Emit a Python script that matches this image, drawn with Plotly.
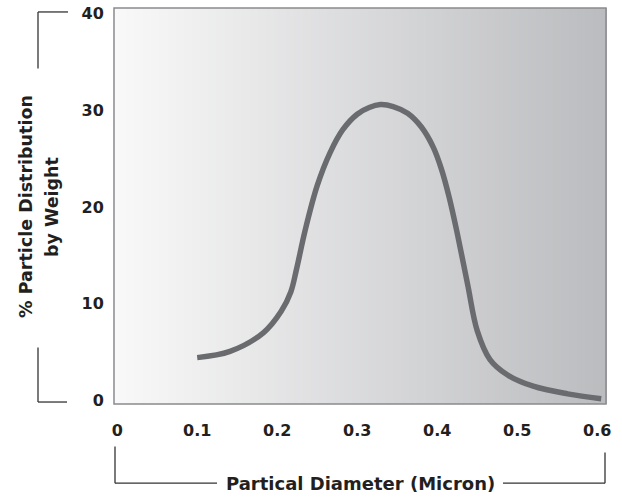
import plotly.graph_objects as go

# Data
diameter = [0.10, 0.141, 0.183, 0.205, 0.217, 0.224, 0.235, 0.250, 0.266, 0.282, 0.300, 0.315, 0.329,
            0.345, 0.363, 0.380, 0.395, 0.405, 0.415, 0.425, 0.438, 0.450, 0.466, 0.488, 0.520, 0.563, 0.605]
distribution = [4.4, 5.05, 7.0, 9.2, 11.2, 13.5, 17.6, 22.2, 25.6, 28.0, 29.6, 30.3, 30.6,
                30.4, 29.7, 28.3, 26.2, 24.0, 21.0, 17.3, 12.0, 7.2, 4.2, 2.6, 1.44, 0.65, 0.15]
x_ticks = [0, 0.1, 0.2, 0.3, 0.4, 0.5, 0.6]
x_tick_labels = ["0", "0.1", "0.2", "0.3", "0.4", "0.5", "0.6"]
y_ticks = [0, 10, 20, 30, 40]
y_tick_labels = ["0", "10", "20", "30", "40"]

W, H = 622, 499
L, R, T, B = 114, 16, 4, 95
PW, PH = W - L - R, H - T - B

def px(x):
    return (x - L) / PW

def py(y):
    return (H - B - y) / PH

FONT = "DejaVu Sans, Liberation Sans, Arial, sans-serif"
TXT = "#231f20"

fig = go.Figure()
fig.add_trace(go.Scatter(
    x=diameter, y=distribution, mode="lines",
    line=dict(color="#6a6b6e", width=5.5, shape="spline", smoothing=1.0),
    hoverinfo="skip", showlegend=False,
))

shapes = []
# horizontal gradient background
n = 120
def lerp(a, b, t):
    return int(round(a + (b - a) * t))
c0 = (249, 249, 249)
c1 = (187, 188, 191)
for i in range(n):
    t = i / (n - 1)
    col = "rgb(%d,%d,%d)" % tuple(lerp(c0[k], c1[k], t) for k in range(3))
    shapes.append(dict(type="rect", xref="x domain", yref="y domain",
                       x0=i / n, x1=(i + 1) / n + 0.002, y0=0, y1=1,
                       fillcolor=col, line=dict(width=0), layer="below"))
# plot border
shapes.append(dict(type="rect", xref="x domain", yref="y domain", x0=0, x1=1, y0=0, y1=1,
                   line=dict(color="#8a8b8d", width=1.5), fillcolor="rgba(0,0,0,0)", layer="above"))

bracket = dict(color="#333333", width=1.3)
def seg(x0, y0, x1, y1):
    shapes.append(dict(type="line", xref="paper", yref="paper",
                       x0=px(x0), y0=py(y0), x1=px(x1), y1=py(y1), line=bracket))
# y-axis brackets
seg(38, 8, 68, 8)
seg(38, 8, 38, 65)
seg(38, 347, 38, 402)
seg(38, 402, 67, 402)
# x-axis brackets
seg(115, 447, 115, 484)
seg(115, 484, 217, 484)
seg(503, 484, 605, 484)
seg(605, 453, 605, 484)

annotations = [
    dict(text="Partical Diameter (Micron)", xref="paper", yref="paper",
         x=px(360), y=py(484), xanchor="center", yanchor="middle", showarrow=False,
         font=dict(family=FONT, size=18, color=TXT, weight="bold")),
    dict(text="% Particle Distribution", xref="paper", yref="paper",
         x=px(26), y=py(205), xanchor="center", yanchor="middle", showarrow=False,
         textangle=-90, font=dict(family=FONT, size=17.5, color=TXT, weight="bold")),
    dict(text="by Weight", xref="paper", yref="paper",
         x=px(52), y=py(205), xanchor="center", yanchor="middle", showarrow=False,
         textangle=-90, font=dict(family=FONT, size=17.5, color=TXT, weight="bold")),
]

fig.update_layout(
    width=W, height=H,
    margin=dict(l=L, r=R, t=T, b=B, pad=0),
    paper_bgcolor="white", plot_bgcolor="white",
    shapes=shapes, annotations=annotations,
    xaxis=dict(range=[-0.004, 0.611], tickmode="array", tickvals=x_ticks, ticktext=x_tick_labels,
               showgrid=False, zeroline=False, showline=False, ticks="outside", ticklen=12,
               tickcolor="rgba(0,0,0,0)",
               tickfont=dict(family=FONT, size=16, color=TXT, weight="bold")),
    yaxis=dict(range=[-0.4, 40.6], tickmode="array", tickvals=y_ticks, ticktext=y_tick_labels,
               showgrid=False, zeroline=False, showline=False, ticks="outside", ticklen=6,
               tickcolor="rgba(0,0,0,0)",
               tickfont=dict(family=FONT, size=16, color=TXT, weight="bold")),
)

fig.write_html("out.html", config={"displayModeBar": False},
               post_script="document.body.style.margin='0';")
